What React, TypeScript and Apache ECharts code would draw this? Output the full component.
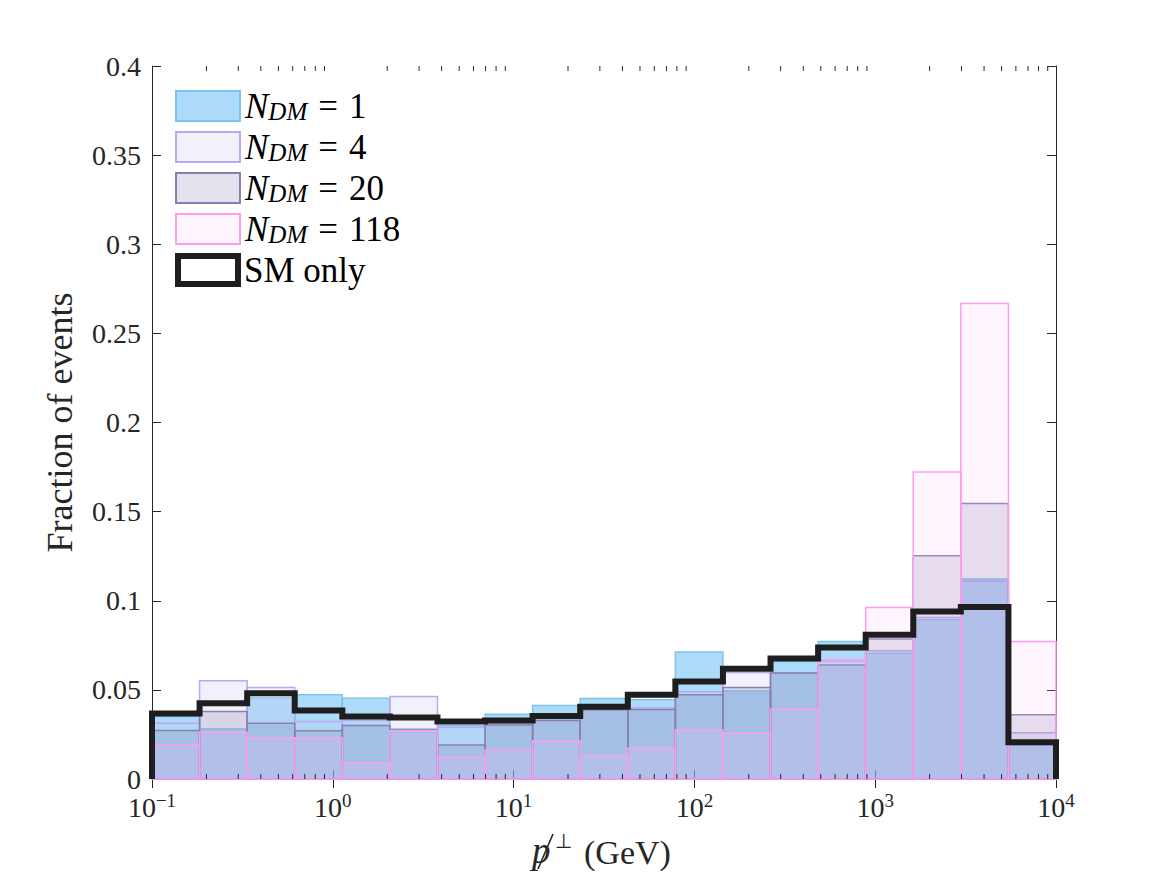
import React, { useEffect, useRef } from "react";
import * as echarts from "echarts";

// Log-spaced histogram bin edges (19 bins between 1e-1 and 1e4 GeV)
const BIN_EDGES = [
  0.1, 0.1833, 0.336, 0.6158, 1.1288, 2.0691, 3.7927, 6.9519, 12.743, 23.357,
  42.813, 78.476, 143.84, 263.67, 483.3, 885.9, 1623.8, 2976.4, 5455.6, 10000,
];

// Fraction of events per bin
const N_DM_1 = [
  0.035, 0.028, 0.0455, 0.0472, 0.0453, 0.028, 0.030, 0.0363, 0.0412, 0.0451,
  0.0444, 0.0713, 0.0494, 0.0659, 0.0772, 0.0706, 0.0893, 0.1122, 0.019,
];
const N_DM_4 = [
  0.0313, 0.0551, 0.0513, 0.0322, 0.033, 0.0463, 0.029, 0.031, 0.033, 0.039,
  0.040, 0.049, 0.0597, 0.0594, 0.066, 0.072, 0.0906, 0.111, 0.026,
];
const N_DM_20 = [
  0.0272, 0.0378, 0.0313, 0.027, 0.030, 0.0275, 0.0191, 0.0303, 0.0328, 0.0388,
  0.039, 0.0472, 0.0513, 0.0594, 0.064, 0.0785, 0.1253, 0.1545, 0.036,
];
const N_DM_118 = [
  0.0191, 0.0262, 0.023, 0.023, 0.009, 0.027, 0.012, 0.0163, 0.0213, 0.0131,
  0.0172, 0.0275, 0.026, 0.0391, 0.0669, 0.0962, 0.1723, 0.2667, 0.0772,
];
const SM_ONLY = [
  0.0367, 0.0425, 0.0481, 0.0384, 0.035, 0.0345, 0.0322, 0.0328, 0.0354, 0.0406,
  0.0472, 0.0547, 0.0618, 0.0676, 0.0738, 0.0809, 0.094, 0.0965, 0.0206,
];

const X_MIN = 0.1;
const X_MAX = 10000;
const Y_MIN = 0;
const Y_MAX = 0.4;
const Y_STEP = 0.05;

const SERIF = "'Liberation Serif', 'Times New Roman', serif";
const INK = "#262626";

const STYLES = [
  { label: "1", values: N_DM_1, fill: "rgba(60,170,240,0.42)", edge: "#7cc4ef" },
  { label: "4", values: N_DM_4, fill: "rgba(200,200,245,0.25)", edge: "#bba8f3" },
  { label: "20", values: N_DM_20, fill: "rgba(100,95,150,0.18)", edge: "#8a80ad" },
  { label: "118", values: N_DM_118, fill: "rgba(255,190,255,0.15)", edge: "#ff9cf0" },
];

// minor tick positions at 2..9 x 10^k along the log axis
const MINOR_TICKS: number[] = [];
for (let k = -1; k < 4; k++) {
  for (let m = 2; m <= 9; m++) MINOR_TICKS.push(m * Math.pow(10, k));
}

function histogram(name: string, values: number[], fill: string, edge: string, z: number) {
  return {
    type: "custom",
    name,
    z,
    clip: false,
    data: values.map((v, i) => [BIN_EDGES[i], BIN_EDGES[i + 1], v]),
    encode: { x: [0, 1], y: 2 },
    renderItem: (_p: any, api: any) => {
      const a = api.coord([api.value(0), api.value(2)]);
      const b = api.coord([api.value(1), 0]);
      return {
        type: "rect",
        shape: { x: a[0], y: a[1], width: b[0] - a[0], height: b[1] - a[1] },
        style: { fill, stroke: edge, lineWidth: 1.5 },
      };
    },
  };
}

const legendRich = {
  n: { fontFamily: SERIF, fontStyle: "italic", fontSize: 35, lineHeight: 36, verticalAlign: "middle", fill: "#000" },
  s: { fontFamily: SERIF, fontStyle: "italic", fontSize: 25, lineHeight: 18, verticalAlign: "bottom", fill: "#000" },
  e: { fontFamily: SERIF, fontSize: 35, lineHeight: 36, verticalAlign: "middle", fill: "#000", padding: [0, 11, 0, 11] },
  r: { fontFamily: SERIF, fontSize: 35, lineHeight: 36, verticalAlign: "middle", fill: "#000" },
};

export default function App() {
  const ref = useRef<HTMLDivElement>(null);

  useEffect(() => {
    if (!ref.current) return;
    const chart = echarts.init(ref.current, undefined, { renderer: "svg" });

    const stairs: number[][] = [[BIN_EDGES[0], 0]];
    SM_ONLY.forEach((v, i) => {
      stairs.push([BIN_EDGES[i], v]);
      stairs.push([BIN_EDGES[i + 1], v]);
    });
    stairs.push([BIN_EDGES[BIN_EDGES.length - 1], 0]);

    const legendEls: any[] = [];
    STYLES.forEach((s, i) => {
      const top = 91 + i * 41;
      legendEls.push({
        type: "rect",
        shape: { x: 176, y: top, width: 64, height: 30 },
        style: { fill: s.fill, stroke: s.edge, lineWidth: 2 },
      });
      legendEls.push({
        type: "text",
        x: 245,
        y: top + 15,
        style: {
          text: `{n|N}{s|DM}{e|=}{r|${s.label}}`,
          rich: legendRich,
          verticalAlign: "middle",
          align: "left",
        },
      });
    });
    legendEls.push({
      type: "rect",
      shape: { x: 178, y: 256, width: 60, height: 28 },
      style: { fill: "#fff", stroke: "#1e1e1e", lineWidth: 6 },
    });
    legendEls.push({
      type: "text",
      x: 244,
      y: 270,
      style: {
        text: "SM only",
        fontFamily: SERIF,
        fontSize: 35,
        fill: "#000",
        verticalAlign: "middle",
        align: "left",
      },
    });

    // x-axis title: slashed p with a perpendicular superscript, then the unit
    const titleEls: any[] = [
      {
        type: "text",
        x: 532,
        y: 850,
        style: { text: "p", fontFamily: SERIF, fontStyle: "italic", fontSize: 37, fill: INK, verticalAlign: "middle", align: "left" },
      },
      {
        type: "line",
        shape: { x1: 553, y1: 834, x2: 538, y2: 869 },
        style: { stroke: INK, lineWidth: 1.6 },
      },
      {
        type: "text",
        x: 555,
        y: 841,
        style: { text: "\u22A5", fontFamily: SERIF, fontSize: 20, fill: INK, verticalAlign: "middle", align: "left" },
      },
      {
        type: "text",
        x: 584,
        y: 852,
        style: { text: "(GeV)", fontFamily: SERIF, fontSize: 34, fill: INK, verticalAlign: "middle", align: "left" },
      },
    ];

    const axisLine = { show: true, lineStyle: { color: INK, width: 1 } };
    const tick = { show: true, inside: true, length: 9, lineStyle: { color: INK } };

    chart.setOption({
      animation: false,
      backgroundColor: "#fff",
      grid: { left: 152, right: 111, top: 66, bottom: 96, containLabel: false },
      xAxis: [
        {
          type: "log",
          logBase: 10,
          min: X_MIN,
          max: X_MAX,
          position: "bottom",
          axisLine,
          axisTick: tick,
          splitLine: { show: false },
          axisLabel: {
            margin: 12,
            formatter: (v: number) => {
              const e = Math.round(Math.log10(v));
              return `{b|10}{e|${e < 0 ? "\u2212" : ""}${Math.abs(e)}}`;
            },
            rich: {
              b: { fontFamily: SERIF, fontSize: 28, lineHeight: 30, verticalAlign: "bottom", color: INK },
              e: { fontFamily: SERIF, fontSize: 19, lineHeight: 10, verticalAlign: "top", color: INK },
            },
          },
        },
        {
          type: "log",
          logBase: 10,
          min: X_MIN,
          max: X_MAX,
          position: "top",
          axisLine,
          axisTick: tick,
          axisLabel: { show: false },
          splitLine: { show: false },
        },
      ],
      yAxis: [
        {
          type: "value",
          min: Y_MIN,
          max: Y_MAX,
          interval: Y_STEP,
          position: "left",
          axisLine,
          axisTick: tick,
          splitLine: { show: false },
          axisLabel: { fontFamily: SERIF, fontSize: 28, color: INK, margin: 11 },
          name: "Fraction of events",
          nameLocation: "middle",
          nameGap: 74,
          nameTextStyle: { fontFamily: SERIF, fontSize: 36, color: INK },
        },
        {
          type: "value",
          min: Y_MIN,
          max: Y_MAX,
          interval: Y_STEP,
          position: "right",
          axisLine,
          axisTick: tick,
          axisLabel: { show: false },
          splitLine: { show: false },
        },
      ],
      series: [
        ...STYLES.map((s, i) => histogram(`N_DM = ${s.label}`, s.values, s.fill, s.edge, 2 + i)),
        {
          type: "custom",
          name: "minor ticks",
          z: 7,
          silent: true,
          clip: false,
          data: MINOR_TICKS.map((v) => [v]),
          encode: { x: 0 },
          renderItem: (_p: any, api: any) => {
            const b = api.coord([api.value(0), Y_MIN]);
            const t = api.coord([api.value(0), Y_MAX]);
            const st = { stroke: INK, lineWidth: 1 };
            return {
              type: "group",
              children: [
                { type: "line", shape: { x1: b[0], y1: b[1], x2: b[0], y2: b[1] - 5 }, style: st },
                { type: "line", shape: { x1: t[0], y1: t[1], x2: t[0], y2: t[1] + 5 }, style: st },
              ],
            };
          },
        },
        {
          type: "line",
          name: "SM only",
          z: 10,
          clip: false,
          symbol: "none",
          data: stairs,
          lineStyle: { color: "#1e1e1e", width: 6, join: "miter", cap: "butt" },
        },
      ],
      graphic: [...legendEls, ...titleEls],
    });

    return () => chart.dispose();
  }, []);

  return (
    <div
      ref={ref}
      style={{ position: "absolute", left: 0, top: 0, width: 1167, height: 875 }}
    />
  );
}
